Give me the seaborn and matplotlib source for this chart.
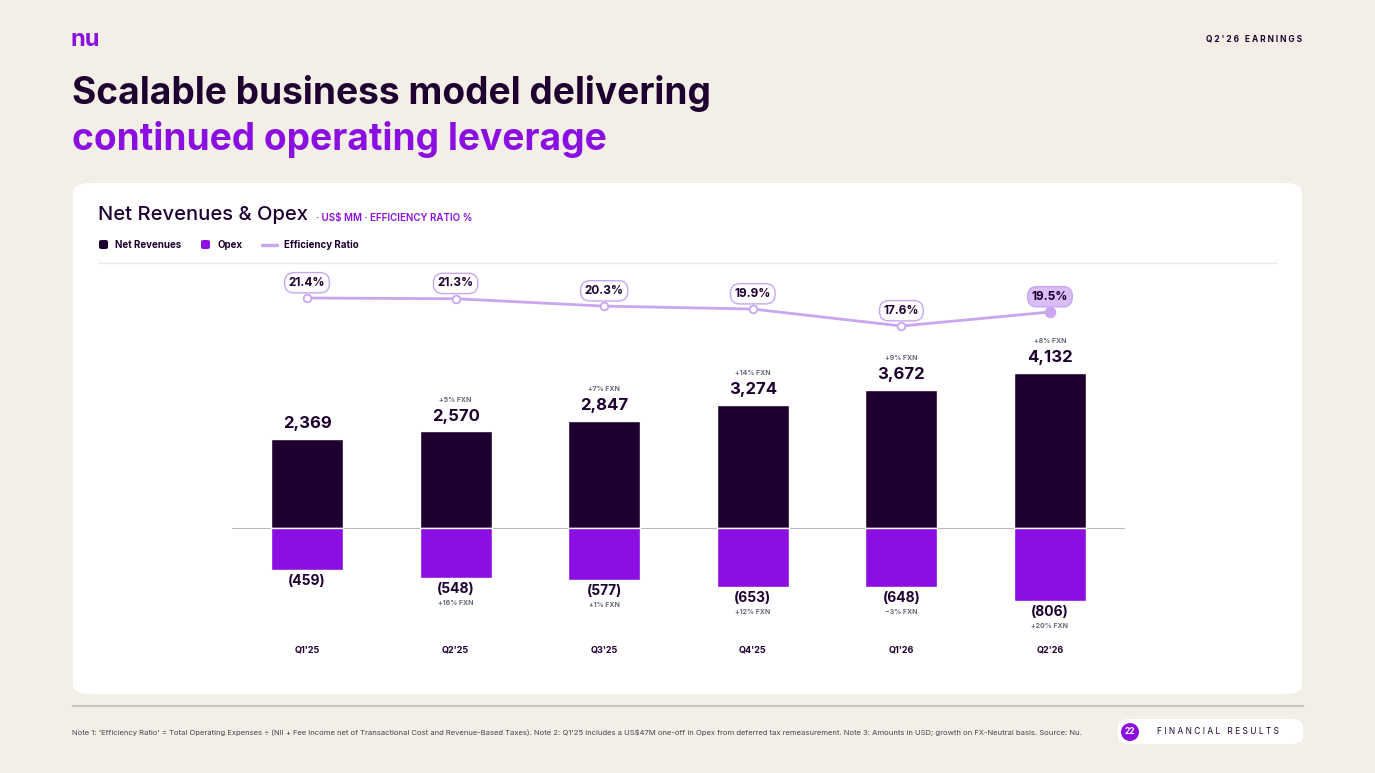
import matplotlib
matplotlib.use("Agg")
import matplotlib.pyplot as plt
import seaborn as sns
import numpy as np
import pandas as pd
from matplotlib.patches import FancyBboxPatch, Ellipse
from matplotlib.lines import Line2D

quarters = ["Q1'25", "Q2'25", "Q3'25", "Q4'25", "Q1'26", "Q2'26"]
net_revenues = [2369, 2570, 2847, 3274, 3672, 4132]
opex = [459, 548, 577, 653, 648, 806]
efficiency = [21.4, 21.3, 20.3, 19.9, 17.6, 19.5]
rev_growth = ["", "+5% FXN", "+7% FXN", "+14% FXN", "+9% FXN", "+8% FXN"]
opex_growth = ["", "+16% FXN", "+1% FXN", "+12% FXN", "\u22123% FXN", "+20% FXN"]

BG = "#F3EEE6"
DARK = "#1E0030"
PURPLE = "#8A0FE0"
LINE = "#C9A6F0"
GREY = "#6E6478"

sns.set_theme(style="white")
plt.rcParams["font.family"] = ["Inter", "DejaVu Sans"]

W, H = 1375, 773
fig = plt.figure(figsize=(W / 100, H / 100), dpi=100, facecolor=BG)

def fx(px): return px / W
def fy(py): return 1 - py / H

# white card
card = FancyBboxPatch((fx(73), fy(694)), fx(1302) - fx(73), fy(183) - fy(694),
                      boxstyle="round,pad=0,rounding_size=0.012", transform=fig.transFigure,
                      facecolor="white", edgecolor="none", zorder=-5)
fig.patches.append(card)

# header
fig.text(fx(70), fy(40), "nu", color=PURPLE, fontsize=17, fontweight="bold", va="center")
fig.text(fx(1302), fy(39), "Q 2 ' 2 6   E A R N I N G S", color=DARK, fontsize=6, fontweight="bold",
         ha="right", va="center")
fig.text(fx(72), fy(94), "Scalable business model delivering", color=DARK, fontsize=26.7,
         fontweight="bold", va="center")
fig.text(fx(72), fy(139), "continued operating leverage", color=PURPLE, fontsize=26.7,
         fontweight="bold", va="center")

# card title and legend
fig.text(fx(98), fy(215), "Net Revenues & Opex", color=DARK, fontsize=14.5, fontweight="medium",
         va="center")
fig.text(fx(316), fy(218), "\u00b7 US$ MM \u00b7 EFFICIENCY RATIO %", color=PURPLE, fontsize=7,
         fontweight="semibold", va="center")
fig.patches.append(FancyBboxPatch((fx(99), fy(249)), fx(9), fy(240) - fy(249),
                                  boxstyle="round,pad=0,rounding_size=0.002",
                                  transform=fig.transFigure, facecolor=DARK, edgecolor="none"))
fig.text(fx(115), fy(245), "Net Revenues", color=DARK, fontsize=7, fontweight="bold", va="center")
fig.patches.append(FancyBboxPatch((fx(201), fy(249)), fx(9), fy(240) - fy(249),
                                  boxstyle="round,pad=0,rounding_size=0.002",
                                  transform=fig.transFigure, facecolor=PURPLE, edgecolor="none"))
fig.text(fx(217), fy(245), "Opex", color=DARK, fontsize=7, fontweight="bold", va="center")
fig.lines.append(Line2D([fx(262), fx(277)], [fy(245), fy(245)], transform=fig.transFigure,
                        color=LINE, lw=2.5))
fig.text(fx(284), fy(245), "Efficiency Ratio", color=DARK, fontsize=7, fontweight="bold", va="center")
fig.lines.append(Line2D([fx(98), fx(1277)], [fy(263), fy(263)], transform=fig.transFigure,
                        color="#EEEAEE", lw=1))

# chart axes
top, bot = 265, 660
rect = [fx(232), fy(bot), fx(1125) - fx(232), fy(top) - fy(bot)]
ax = fig.add_axes(rect)
ax2 = fig.add_axes(rect, sharex=ax)
ax3 = fig.add_axes(rect, sharex=ax)
for a in (ax, ax2, ax3):
    a.patch.set_alpha(0)
    a.axis("off")

zero = 528
rs, os_ = 0.03757, 0.0905
ax.set_ylim(-(bot - zero) / rs, (zero - top) / rs)
ax2.set_ylim(-(bot - zero) / os_, (zero - top) / os_)
es = 7.37
ax3.set_ylim(21.4 - (bot - 298) / es, 21.4 + (298 - top) / es)

df = pd.DataFrame({"quarter": quarters, "rev": net_revenues, "opex": [-v for v in opex],
                   "eff": efficiency, "i": range(len(quarters))})
sns.barplot(data=df, x="quarter", y="rev", color=DARK, saturation=1, width=0.485, ax=ax)
sns.barplot(data=df, x="quarter", y="opex", color=PURPLE, saturation=1, width=0.485, ax=ax2)
ax.set_xlim(-0.505, 5.505)
ax.axhline(0, color="#BDB7C2", lw=0.8, zorder=0)

sns.lineplot(data=df, x="i", y="eff", color=LINE, lw=2, ax=ax3)
for i, e in enumerate(efficiency):
    last = i == len(efficiency) - 1
    ax3.plot(i, e, "o", ms=7 if last else 5.5, mfc=LINE if last else "white", mec=LINE,
             mew=1.3, zorder=5)
    ax3.annotate(f"{e:.1f}%", (i, e), xytext=(0, 11), textcoords="offset points", ha="center",
                 va="center", fontsize=8.5, fontweight="bold", color=DARK,
                 bbox=dict(boxstyle="round,pad=0.35,rounding_size=0.8",
                           fc="#D9BDF6" if last else "white", ec=LINE, lw=1))

for i, (r, g) in enumerate(zip(net_revenues, rev_growth)):
    ax.annotate(f"{r:,}", (i, r), xytext=(0, 11), textcoords="offset points", ha="center",
                va="center", fontsize=12, fontweight="bold", color=DARK)
    if g:
        ax.annotate(g, (i, r), xytext=(0, 23), textcoords="offset points", ha="center",
                    va="center", fontsize=5, fontweight="bold", color=GREY)
for i, (o, g) in enumerate(zip(opex, opex_growth)):
    ax2.annotate(f"({o})", (i, -o), xytext=(0, -8), textcoords="offset points", ha="center",
                 va="center", fontsize=10, fontweight="bold", color=DARK)
    if g:
        ax2.annotate(g, (i, -o), xytext=(0, -18), textcoords="offset points", ha="center",
                     va="center", fontsize=5, fontweight="bold", color=GREY)
for i, q in enumerate(quarters):
    ax.text(i, ax.get_ylim()[0] + 10 / rs, q, ha="center", va="center", fontsize=6.5,
            fontweight="bold", color=DARK)

# footer
fig.lines.append(Line2D([fx(73), fx(1303)], [fy(706), fy(706)], transform=fig.transFigure,
                        color="#CBC6C6", lw=1.5))
fig.text(fx(72), fy(732), "Note 1: 'Efficiency Ratio' = Total Operating Expenses \u00f7 (NII + Fee Income net of "
         "Transactional Cost and Revenue-Based Taxes). Note 2: Q1'25 includes a US$47M one-off in Opex from "
         "deferred tax remeasurement. Note 3: Amounts in USD; growth on FX-Neutral basis. Source: Nu.",
         fontsize=5.5, color="#4A4250", va="center")
fig.patches.append(FancyBboxPatch((fx(1118), fy(744)), fx(1303) - fx(1118), fy(719) - fy(744),
                                  boxstyle="round,pad=0,rounding_size=0.009",
                                  transform=fig.transFigure, facecolor="white", edgecolor="none"))
fig.patches.append(Ellipse((fx(1130), fy(732)), 18 / W, 18 / H, transform=fig.transFigure,
                           facecolor=PURPLE, edgecolor="none"))
fig.text(fx(1130), fy(732), "22", color="white", fontsize=6, fontweight="bold", ha="center", va="center")
fig.text(fx(1157), fy(732), "F I N A N C I A L   R E S U L T S", color=DARK, fontsize=6,
         va="center")

fig.savefig("out.png", dpi=100, facecolor=BG)
